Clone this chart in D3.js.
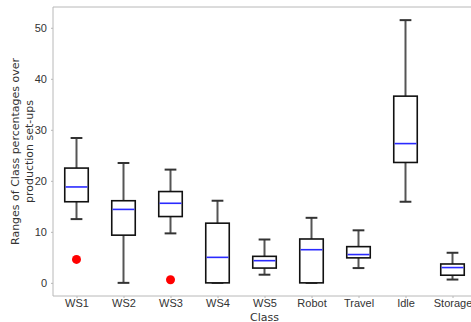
<!DOCTYPE html>
<html>
<head>
<meta charset="utf-8">
<script src="https://cdn.jsdelivr.net/npm/d3@7"></script>
<style>
  html, body { margin: 0; padding: 0; background: #fff; overflow: hidden; }
  svg { display: block; font-family: "DejaVu Sans", sans-serif; }
</style>
</head>
<body>
<svg id="chart" width="471" height="322"></svg>
<script>
// Box statistics per class (percent): whisker low, Q1, median, Q3, whisker high
const categories = ["WS1", "WS2", "WS3", "WS4", "WS5", "Robot", "Travel", "Idle", "Storage"];
const whiskerLow  = [12.5, 0.0, 9.7, 0.0, 1.6, 0.0, 2.9, 15.9, 0.65];
const q1          = [15.9, 9.35, 13.0, 0.0, 2.9, 0.0, 4.9, 23.6, 1.5];
const median      = [18.8, 14.4, 15.6, 5.0, 4.35, 6.5, 5.55, 27.3, 3.0];
const q3          = [22.5, 16.1, 17.9, 11.7, 5.2, 8.6, 7.1, 36.6, 3.7];
const whiskerHigh = [28.4, 23.5, 22.2, 16.1, 8.5, 12.75, 10.3, 51.5, 5.9];
// Outlier points: [class, value]
const outliers = [["WS1", 4.6], ["WS3", 0.6]];
const yTicks = [0, 10, 20, 30, 40, 50];

const svg = d3.select("#chart");
const margin = { left: 53, top: 7, bottom: 296 };
const plotRight = 476;

const x = d3.scaleLinear().domain([0.5, categories.length + 0.5]).range([margin.left, plotRight]);
const pos = c => x(categories.indexOf(c) + 1);
const unit = x(1) - x(0);
const boxW = unit * 0.5, capW = unit * 0.25;

const ymin = 0, ymax = d3.max(whiskerHigh);
const pad = (ymax - ymin) * 0.05;
const y = d3.scaleLinear().domain([ymin - pad, ymax + pad]).range([margin.bottom, margin.top]);

const data = categories.map((c, i) => ({
  c, lo: whiskerLow[i], q1: q1[i], med: median[i], q3: q3[i], hi: whiskerHigh[i]
}));

// Frame
const spine = "#b8b8b8";
svg.append("line").attr("x1", margin.left).attr("x2", margin.left)
  .attr("y1", margin.top).attr("y2", margin.bottom).attr("stroke", spine).attr("stroke-width", 1);
svg.append("line").attr("x1", margin.left).attr("x2", plotRight)
  .attr("y1", margin.bottom).attr("y2", margin.bottom).attr("stroke", spine).attr("stroke-width", 1);
svg.append("line").attr("x1", margin.left).attr("x2", plotRight)
  .attr("y1", margin.top).attr("y2", margin.top).attr("stroke", spine).attr("stroke-width", 1);

// Axes
const yAxis = d3.axisLeft(y).tickValues(yTicks).tickSize(2).tickPadding(4);
const gy = svg.append("g").attr("transform", `translate(${margin.left},0)`).call(yAxis);
gy.select(".domain").remove();
gy.selectAll(".tick line").attr("stroke", spine);
gy.selectAll(".tick text").attr("fill", "#333").style("font-size", "11px");

const xAxis = d3.axisBottom(x).tickValues(d3.range(1, categories.length + 1))
  .tickFormat(d => categories[d - 1]).tickSize(2).tickPadding(1);
const gx = svg.append("g").attr("transform", `translate(0,${margin.bottom})`).call(xAxis);
gx.select(".domain").remove();
gx.selectAll(".tick line").attr("stroke", spine);
gx.selectAll(".tick text").attr("fill", "#333").style("font-size", "11px");

// Axis titles
svg.append("text").attr("x", x(5)).attr("y", 320.5).attr("text-anchor", "middle")
  .attr("fill", "#333").style("font-size", "11px").text("Class");
const ylab = svg.append("text")
  .attr("transform", `translate(19,${(margin.top + margin.bottom) / 2}) rotate(-90)`)
  .attr("text-anchor", "middle").attr("fill", "#333").style("font-size", "11px");
ylab.append("tspan").attr("x", 0).attr("dy", 0).text("Ranges of Class percentages over");
ylab.append("tspan").attr("x", 0).attr("dy", "1.25em").text("production set-ups");

// Boxes
const g = svg.append("g");
const b = g.selectAll("g.box").data(data).enter().append("g").attr("class", "box");

// whiskers
b.append("line").attr("x1", d => pos(d.c)).attr("x2", d => pos(d.c))
  .attr("y1", d => y(d.q3)).attr("y2", d => y(d.hi)).attr("stroke", "#555").attr("stroke-width", 2);
b.append("line").attr("x1", d => pos(d.c)).attr("x2", d => pos(d.c))
  .attr("y1", d => y(d.q1)).attr("y2", d => y(d.lo)).attr("stroke", "#555").attr("stroke-width", 2);
// caps
b.append("line").attr("x1", d => pos(d.c) - capW / 2).attr("x2", d => pos(d.c) + capW / 2)
  .attr("y1", d => y(d.hi)).attr("y2", d => y(d.hi)).attr("stroke", "#333").attr("stroke-width", 2);
b.append("line").attr("x1", d => pos(d.c) - capW / 2).attr("x2", d => pos(d.c) + capW / 2)
  .attr("y1", d => y(d.lo)).attr("y2", d => y(d.lo)).attr("stroke", "#333").attr("stroke-width", 2);
// box
b.append("rect").attr("x", d => pos(d.c) - boxW / 2).attr("width", boxW)
  .attr("y", d => y(d.q3)).attr("height", d => y(d.q1) - y(d.q3))
  .attr("fill", "#fff").attr("stroke", "#111").attr("stroke-width", 1.6);
// median
b.append("line").attr("x1", d => pos(d.c) - boxW / 2 + 0.8).attr("x2", d => pos(d.c) + boxW / 2 - 0.8)
  .attr("y1", d => y(d.med)).attr("y2", d => y(d.med)).attr("stroke", "#2a2aff").attr("stroke-width", 1.6);

// outliers
g.selectAll("circle.out").data(outliers).enter().append("circle").attr("class", "out")
  .attr("cx", d => pos(d[0])).attr("cy", d => y(d[1])).attr("r", 4.5).attr("fill", "#ff0000");
</script>
</body>
</html>
